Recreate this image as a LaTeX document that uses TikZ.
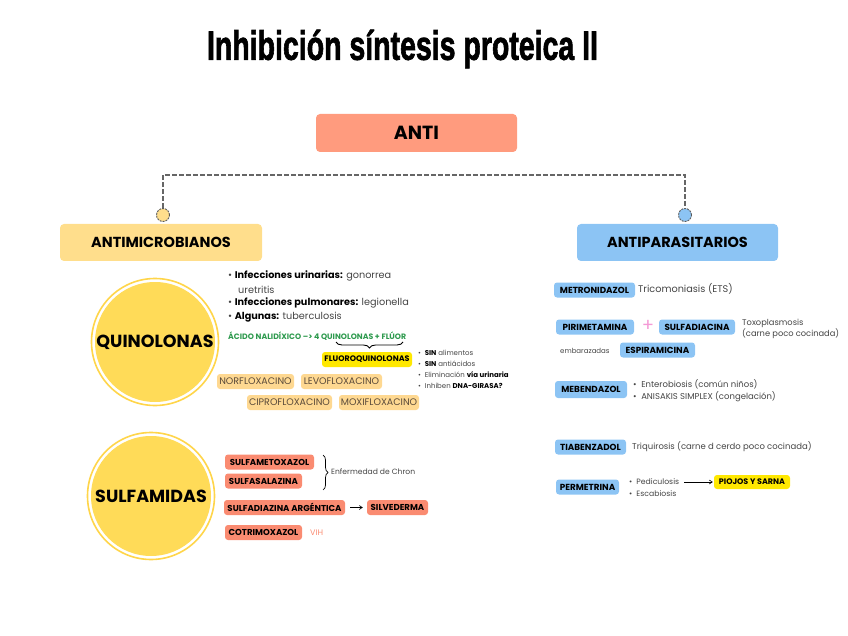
\documentclass[tikz,border=0pt]{standalone}
\usepackage{fontspec}
\usepackage{graphicx}
\setmainfont{Poppins}
\newfontfamily\titlefont[FakeBold=2]{Liberation Sans}
\usetikzlibrary{decorations.pathreplacing,arrows.meta}
\definecolor{antiC}{HTML}{FF9B7E}
\definecolor{yelH}{HTML}{FFDE8C}
\definecolor{bluH}{HTML}{8CC4F4}
\definecolor{circY}{HTML}{FFDB58}
\definecolor{ringY}{HTML}{FFD54A}
\definecolor{orT}{HTML}{FED891}
\definecolor{salT}{HTML}{FA8B71}
\definecolor{hiY}{HTML}{FFE800}
\definecolor{grnT}{HTML}{2E9A4E}
\definecolor{pinkP}{HTML}{F49AD6}
\definecolor{txG}{HTML}{444444}
\definecolor{tagTx}{HTML}{5A4A3A}
\tikzset{
  head/.style={rounded corners=4pt, inner sep=0pt, minimum height=37pt, font=\fontsize{14.5}{16}\selectfont\bfseries},
  tagbase/.style={rounded corners=3pt, inner sep=0pt, minimum height=15pt},
  orTag/.style={tagbase, fill=orT, text=tagTx, font=\fontsize{9.5}{10}\selectfont},
  salTag/.style={tagbase, fill=salT, font=\fontsize{8.6}{10}\selectfont\bfseries},
  bluTag/.style={tagbase, fill=bluH, font=\fontsize{8.8}{10}\selectfont\bfseries},
  bigcirc/.style={circle, fill=circY, inner sep=0pt, minimum size=120pt, font=\fontsize{17.5}{19}\selectfont\bfseries},
  ring/.style={circle, draw=ringY, line width=1.6pt, inner sep=0pt, minimum size=127pt},
  small/.style={anchor=west, inner sep=0pt, text=txG, font=\fontsize{9.7}{11}\selectfont, align=left},
  tiny/.style={anchor=west, inner sep=0pt, text=txG, font=\fontsize{7}{8}\selectfont, align=left},
  dot/.style={circle, draw=black!65, line width=0.9pt, dashed, dash pattern=on 2pt off 1pt, minimum size=13pt, inner sep=0pt},
  conn/.style={draw=black!60, line width=1.4pt, dash pattern=on 5pt off 2pt},
  arr/.style={-{Straight Barb[length=3pt,width=4pt]}, line width=0.6pt},
}
\begin{document}
\begin{tikzpicture}[x=1pt,y=-1pt]
\useasboundingbox (0,0) rectangle (848,636);
% title
\node[anchor=center, inner sep=0pt] (title) at (402.5,49) {\resizebox{391pt}{\height}{\titlefont\bfseries\fontsize{41}{45}\selectfont Inhibición síntesis proteica II}};
% ANTI
\node[head, fill=antiC, minimum width=201pt, minimum height=38pt, font=\fontsize{19}{21}\selectfont\bfseries] (anti) at (416.5,133) {ANTI};
% connectors
\node[dot, fill=yelH] (cL) at (163,215) {};
\node[dot, fill=bluH] (cR) at (685,215) {};
\coordinate (mid) at (424,175);
\draw[conn] (cL.north) |- (mid) -| (cR.north);
% headers
\node[head, fill=yelH, minimum width=202pt] (amic) at (161,242.5) {ANTIMICROBIANOS};
\node[head, fill=bluH, minimum width=201pt] (apar) at (677.5,242.5) {ANTIPARASITARIOS};
% circles
\node[bigcirc] (quin) at (155,342) {QUINOLONAS};
\node[ring] (quinR) at (155,342) {};
\node[bigcirc] (sulf) at (151,496) {SULFAMIDAS};
\node[ring] (sulfR) at (151,496) {};
% quinolonas bullets
\node[small] (b1) at (228,276) {\textbullet\ \textcolor{black}{\textbf{Infecciones urinarias:}} gonorrea};
\node[small] (b1b) at (238,290) {uretritis};
\node[small] (b2) at (228,303) {\textbullet\ \textcolor{black}{\textbf{Infecciones pulmonares:}} legionella};
\node[small] (b3) at (228,317) {\textbullet\ \textcolor{black}{\textbf{Algunas:}} tuberculosis};
\node[anchor=west, inner sep=0pt, text=grnT, font=\fontsize{7.8}{9}\selectfont\bfseries] (acido) at (228,336) {ÁCIDO NALIDÍXICO --> 4 QUINOLONAS + FLÚOR};
\coordinate (brA) at (336,342);
\coordinate (brB) at (403,342);
\draw[decorate, decoration={brace, mirror, amplitude=6pt}, line width=0.9pt] (brA) -- (brB);
\node[tagbase, fill=hiY, minimum width=90pt, font=\fontsize{8}{9}\selectfont\bfseries] (fluoro) at (367,359.5) {FLUOROQUINOLONAS};
\node[tiny] (f1) at (418,353) {\textbullet\ \ \textcolor{black}{\textbf{SIN}} alimentos};
\node[tiny] (f2) at (418,364) {\textbullet\ \ \textcolor{black}{\textbf{SIN}} antiácidos};
\node[tiny] (f3) at (418,375) {\textbullet\ \ Eliminación \textcolor{black}{\textbf{vía urinaria}}};
\node[tiny] (f4) at (418,386) {\textbullet\ \ Inhiben \textcolor{black}{\textbf{DNA-GIRASA?}}};
\node[orTag, minimum width=77pt] (norf) at (255.5,381.5) {NORFLOXACINO};
\node[orTag, minimum width=81pt] (levo) at (341.5,381.5) {LEVOFLOXACINO};
\node[orTag, minimum width=85pt] (cipro) at (289.5,402.5) {CIPROFLOXACINO};
\node[orTag, minimum width=80pt] (moxi) at (379,402.5) {MOXIFLOXACINO};
% sulfamidas
\node[salTag, minimum width=89pt] (sme) at (269.5,462) {SULFAMETOXAZOL};
\node[salTag, minimum width=77pt] (ssa) at (263.5,481) {SULFASALAZINA};
\coordinate (chA) at (323,455);
\coordinate (chB) at (323,490);
\draw[decorate, decoration={brace, amplitude=5pt}, line width=0.7pt] (chA) -- (chB);
\node[small, font=\fontsize{7.6}{9}\selectfont] (chron) at (331,472) {Enfermedad de Chron};
\node[salTag, minimum width=121pt] (sda) at (284.5,507.5) {SULFADIAZINA ARGÉNTICA};
\node[salTag, minimum width=61pt] (silv) at (397.5,507.5) {SILVEDERMA};
\draw[arr, shorten <=5pt, shorten >=4pt] (sda) -- (silv);
\node[salTag, minimum width=77pt] (cotri) at (263.5,532.5) {COTRIMOXAZOL};
\node[anchor=west, inner sep=0pt, text=salT, font=\fontsize{8}{9}\selectfont] (vih) at (310,533) {VIH};
% antiparasitarios
\node[bluTag, minimum width=81pt] (metro) at (594.5,290) {METRONIDAZOL};
\node[small] (metroT) at (638,289) {Tricomoniasis (ETS)};
\node[bluTag, minimum width=78pt] (piri) at (595,327) {PIRIMETAMINA};
\node[inner sep=0pt, text=pinkP, font=\fontsize{18}{18}\selectfont] (plus) at (648,326) {+};
\node[bluTag, minimum width=76pt] (sdc) at (697,327) {SULFADIACINA};
\node[small, font=\fontsize{8.3}{9}\selectfont] (toxo) at (742,328.5) {Toxoplasmosis\\(carne poco cocinada)};
\node[small, font=\fontsize{7}{9}\selectfont] (emb) at (560,351) {embarazadas};
\node[bluTag, minimum width=75pt] (espi) at (657.5,350) {ESPIRAMICINA};
\node[bluTag, minimum width=72pt, minimum height=17pt] (mebe) at (591,389.5) {MEBENDAZOL};
\node[small, font=\fontsize{8.5}{9}\selectfont] (m1) at (633,384) {\textbullet\ \ Enterobiosis (común niños)};
\node[small, font=\fontsize{8.5}{9}\selectfont] (m2) at (633,397) {\textbullet\ \ ANISAKIS SIMPLEX (congelación)};
\node[bluTag, minimum width=71pt] (tiab) at (590.5,447) {TIABENZADOL};
\node[small, font=\fontsize{8.5}{10}\selectfont] (tiabT) at (632,447) {Triquirosis (carne d cerdo poco cocinada)};
\node[bluTag, minimum width=63pt] (perm) at (587.5,487) {PERMETRINA};
\node[small, font=\fontsize{7.7}{9}\selectfont] (p1) at (629,482) {\textbullet\ \ Pediculosis};
\node[small, font=\fontsize{7.7}{9}\selectfont] (p2) at (629,494) {\textbullet\ \ Escabiosis};
\node[tagbase, fill=hiY, minimum width=76pt, minimum height=14pt, font=\fontsize{8}{9}\selectfont\bfseries] (piojos) at (752,482) {PIOJOS Y SARNA};
\draw[arr, shorten <=5pt, shorten >=1pt] (p1.east) -- (piojos.west);
\end{tikzpicture}
\end{document}
